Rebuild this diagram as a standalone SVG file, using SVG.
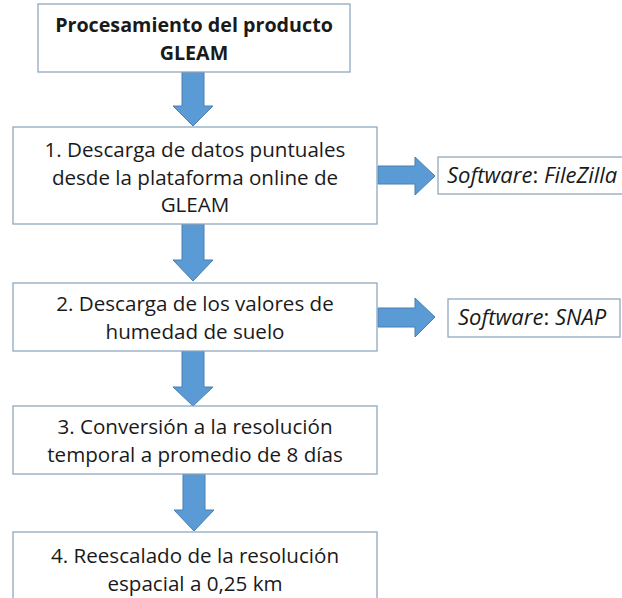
<svg xmlns="http://www.w3.org/2000/svg" width="622" height="598" viewBox="0 0 622 598">
<style>
.box{fill:#fff;stroke:#8fa8bd;stroke-width:1.3}
.arr{fill:#5b9bd5;stroke:#4a7fb0;stroke-width:1}
.t{font-family:"Open Sans","Noto Sans",sans-serif;font-size:20.6px;fill:#1a1a1a;text-anchor:middle}
.b{font-weight:bold;font-size:19.7px}
.i{font-style:italic;text-anchor:start;font-size:22px}
</style>
<rect width="622" height="598" fill="#fff"/>
<g id="connectors">
<polygon class="arr" points="182,72 204,72 204,106 213,106 193,126 173,106 182,106"/>
<polygon class="arr" points="182,224 204,224 204,260 213,260 193,281 173,260 182,260"/>
<polygon class="arr" points="182,351 204,351 204,387 213,387 193,406 173,387 182,387"/>
<polygon class="arr" points="183,474 205,474 205,510 214,510 194,531 174,510 183,510"/>
<polygon class="arr" points="378,166 415,166 415,157 435,176 415,195 415,184 378,184"/>
<polygon class="arr" points="378,308 415,308 415,298 435,317 415,337 415,327 378,327"/>
</g>
<g id="n0">
<rect class="box" x="38" y="4" width="312" height="68"/>
<text class="t b" x="194" y="32">Procesamiento del producto</text>
<text class="t b" x="194" y="60">GLEAM</text>
</g>
<g id="n1">
<rect class="box" x="13" y="127" width="364" height="97"/>
<text class="t" x="195" y="157">1. Descarga de datos puntuales</text>
<text class="t" x="195" y="185">desde la plataforma online de</text>
<text class="t" x="195" y="212">GLEAM</text>
</g>
<g id="n2">
<rect class="box" x="13" y="283" width="364" height="68"/>
<text class="t" x="195" y="311">2. Descarga de los valores de</text>
<text class="t" x="195" y="339">humedad de suelo</text>
</g>
<g id="n3">
<rect class="box" x="13" y="406" width="364" height="68"/>
<text class="t" x="195" y="434">3. Conversión a la resolución</text>
<text class="t" x="195" y="462">temporal a promedio de 8 días</text>
</g>
<g id="n4">
<rect class="box" x="13" y="532" width="364" height="70"/>
<text class="t" x="195" y="563">4. Reescalado de la resolución</text>
<text class="t" x="195" y="591">espacial a 0,25 km</text>
</g>
<g id="s1">
<rect class="box" x="438" y="157" width="190" height="37"/>
<text class="t i" x="447" y="183"><tspan>Software</tspan><tspan font-style="normal">: </tspan><tspan>FileZilla</tspan></text>
</g>
<g id="s2">
<rect class="box" x="448" y="299" width="172" height="38"/>
<text class="t i" x="458" y="325"><tspan>Software</tspan><tspan font-style="normal">: </tspan><tspan>SNAP</tspan></text>
</g>
</svg>
